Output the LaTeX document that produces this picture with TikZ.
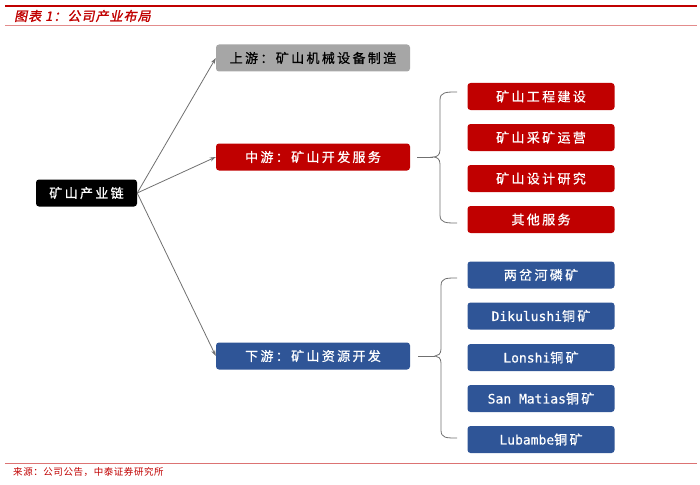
\documentclass[tikz,border=0pt]{standalone}
\usepackage{fontspec}
\usetikzlibrary{arrows.meta}
\newfontfamily\cjk[LetterSpace=18,FakeBold=0.8]{Noto Sans CJK SC}
\newfontfamily\cjktitle[FakeSlant=0.2,FakeBold=1.5,LetterSpace=8]{Noto Sans CJK SC}
\newfontfamily\cjksrc[LetterSpace=6]{Noto Sans CJK SC}
\newfontfamily\mono[FakeBold=0.5]{DejaVu Sans Mono}
\definecolor{zred}{HTML}{C00000}
\definecolor{zblue}{HTML}{2F5597}
\definecolor{zgray}{HTML}{A6A6A6}
\definecolor{zline}{HTML}{707070}
\tikzset{
  box/.style={rounded corners=3pt, minimum height=27pt, inner sep=0pt, anchor=center, font=\fontsize{13}{15}\cjk},
  rootbox/.style={box, fill=black, text=white, minimum width=101pt},
  midbox/.style={box, minimum width=194pt},
  subbox/.style={box, minimum width=147pt},
  redbox/.style={fill=zred, text=white},
  bluebox/.style={fill=zblue, text=white},
  graybox/.style={fill=zgray, text=black},
  conn/.style={draw=zline, line width=0.8pt, -{Stealth[length=6pt,width=4pt]}},
  brace/.style={draw=zline, line width=0.8pt}
}
\begin{document}
\begin{tikzpicture}[x=1pt,y=-1pt]
\useasboundingbox (0,0) rectangle (700,484);
% header
\draw[zred, line width=2pt] (5,6) -- (697,6);
\node[anchor=west, text=zred, font=\fontsize{13}{15}\cjktitle, inner sep=0pt] (title) at (14,16) {图表 1：公司产业布局};
\draw[color=zred!45, line width=0.8pt] (5,25) -- (697,25);
% footer
\draw[color=zred!55, line width=0.8pt] (5,463) -- (697,463);
\node[anchor=west, text=zred, font=\fontsize{9.5}{11}\cjksrc, inner sep=0pt] (src) at (13,471.5) {来源：公司公告，中泰证券研究所};
% nodes
\node[rootbox] (root) at (86.5,193) {矿山产业链};
\node[midbox, graybox] (up) at (313,58) {上游：矿山机械设备制造};
\node[midbox, redbox] (mid) at (313,157) {中游：矿山开发服务};
\node[midbox, bluebox] (down) at (313,356) {下游：矿山资源开发};
\node[subbox, redbox] (m1) at (541,96.5) {矿山工程建设};
\node[subbox, redbox] (m2) at (541,137.5) {矿山采矿运营};
\node[subbox, redbox] (m3) at (541,178.5) {矿山设计研究};
\node[subbox, redbox] (m4) at (541,219.5) {其他服务};
\node[subbox, bluebox] (d1) at (541,275) {两岔河磷矿};
\node[subbox, bluebox] (d2) at (541,316) {{\fontsize{13}{15}\mono Dikulushi}铜矿};
\node[subbox, bluebox] (d3) at (541,357.5) {{\fontsize{13}{15}\mono Lonshi}铜矿};
\node[subbox, bluebox] (d4) at (541,398.5) {{\fontsize{13}{15}\mono San Matias}铜矿};
\node[subbox, bluebox] (d5) at (541,439.5) {{\fontsize{13}{15}\mono Lubambe}铜矿};
% connectors
\draw[conn] (root.east) -- (up.west);
\draw[conn] (root.east) -- (mid.west);
\draw[conn] (root.east) -- (down.west);
% braces
\coordinate (mb0) at (417,157);
\coordinate (mbt) at (433,157);
\draw[brace] (mb0) -- (mbt);
\draw[brace] (457,92) .. controls (446,92) and (440,92) .. (440,100) -- (440,150) .. controls (440,155) and (437,157) .. (mbt)
  .. controls (437,157) and (440,159) .. (440,164) -- (440,215) .. controls (440,223) and (446,223) .. (457,223);
\coordinate (db0) at (418,356);
\coordinate (dbt) at (435,356);
\draw[brace] (db0) -- (dbt);
\draw[brace] (457,278) .. controls (446,278) and (441,278) .. (441,286) -- (441,349) .. controls (441,354) and (438,356) .. (dbt)
  .. controls (438,356) and (441,358) .. (441,363) -- (441,430) .. controls (441,438) and (446,438) .. (457,438);
\end{tikzpicture}
\end{document}
